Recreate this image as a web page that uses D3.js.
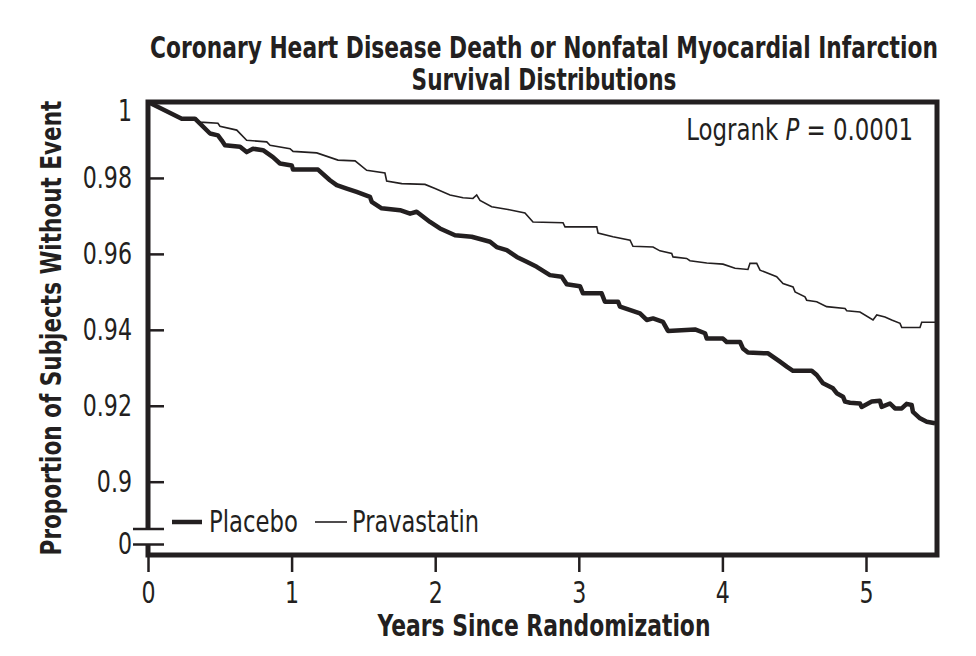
<!DOCTYPE html>
<html>
<head>
<meta charset="utf-8">
<script src="https://d3js.org/d3.v7.min.js"></script>
<style>
  body { margin: 0; background: #fff; }
  svg text { font-family: "Liberation Sans Narrow", "DejaVu Sans Condensed", "Roboto Condensed", sans-serif; fill: #231f20; }
  .bold { font-weight: bold; }
</style>
</head>
<body>
<svg id="chart" width="976" height="656"></svg>
<script>
// years since randomization / proportion without event
var pravaT = [0, 0.235, 0.327, 0.362, 0.487, 0.501, 0.618, 0.687, 0.827, 0.850, 0.989, 1.010, 1.175, 1.323, 1.442,
  1.523, 1.650, 1.662, 1.767, 1.929, 1.999, 2.103, 2.194, 2.263, 2.289, 2.312, 2.393, 2.507, 2.625, 2.681, 2.890,
  2.904, 3.125, 3.134, 3.238, 3.357, 3.377, 3.517, 3.565, 3.647, 3.656, 3.751, 3.774, 3.891, 4.004, 4.088, 4.178,
  4.192, 4.239, 4.262, 4.378, 4.422, 4.492, 4.506, 4.575, 4.587, 4.657, 4.726, 4.854, 4.866, 4.958, 5.049, 5.075,
  5.132, 5.179, 5.237, 5.249, 5.376, 5.388, 5.481];
var pravaS = [1, 0.9956, 0.9956, 0.9947, 0.9944, 0.9936, 0.9926, 0.9899, 0.9895, 0.9886, 0.9877, 0.9870, 0.9866, 0.9847, 0.9845,
  0.9820, 0.9813, 0.9792, 0.9785, 0.9783, 0.9772, 0.9755, 0.9748, 0.9746, 0.9755, 0.9741, 0.9724, 0.9717, 0.9708, 0.9684, 0.9682,
  0.9671, 0.9671, 0.9655, 0.9645, 0.9636, 0.9620, 0.9618, 0.9608, 0.9601, 0.9592, 0.9588, 0.9582, 0.9576, 0.9573, 0.9562, 0.9559,
  0.9575, 0.9575, 0.9557, 0.9540, 0.9522, 0.9513, 0.9500, 0.9487, 0.9478, 0.9474, 0.9461, 0.9456, 0.9450, 0.9447, 0.9426, 0.9439,
  0.9434, 0.9426, 0.9417, 0.9406, 0.9406, 0.9420, 0.9420];

var placT = [0, 0.235, 0.327, 0.432, 0.487, 0.513, 0.536, 0.641, 0.687, 0.731, 0.801, 0.870, 0.919, 1.001, 1.010,
  1.184, 1.267, 1.314, 1.384, 1.453, 1.546, 1.558, 1.627, 1.755, 1.825, 1.871, 1.964, 2.033, 2.138, 2.254, 2.382,
  2.428, 2.498, 2.568, 2.637, 2.707, 2.799, 2.881, 2.916, 3.008, 3.029, 3.159, 3.182, 3.273, 3.287, 3.426, 3.473,
  3.517, 3.586, 3.621, 3.809, 3.879, 3.891, 4.004, 4.030, 4.123, 4.143, 4.178, 4.318, 4.401, 4.448, 4.492, 4.622,
  4.657, 4.701, 4.770, 4.796, 4.840, 4.854, 4.889, 4.958, 4.970, 5.040, 5.097, 5.109, 5.167, 5.202, 5.249, 5.283,
  5.318, 5.327, 5.376, 5.423, 5.481];
var placS = [1, 0.9956, 0.9956, 0.9917, 0.9912, 0.9899, 0.9886, 0.9882, 0.9868, 0.9877, 0.9873, 0.9855, 0.9838, 0.9833, 0.9822,
  0.9822, 0.9794, 0.9781, 0.9772, 0.9763, 0.9750, 0.9737, 0.9720, 0.9715, 0.9706, 0.9711, 0.9684, 0.9667, 0.9649, 0.9645, 0.9632,
  0.9618, 0.9610, 0.9592, 0.9579, 0.9566, 0.9544, 0.9540, 0.9520, 0.9515, 0.9496, 0.9496, 0.9474, 0.9474, 0.9461, 0.9443, 0.9426,
  0.9430, 0.9421, 0.9397, 0.9401, 0.9391, 0.9377, 0.9377, 0.9368, 0.9368, 0.9351, 0.9340, 0.9338, 0.9316, 0.9303, 0.9292, 0.9292,
  0.9281, 0.9259, 0.9246, 0.9233, 0.9224, 0.9211, 0.9208, 0.9206, 0.9197, 0.9211, 0.9213, 0.9197, 0.9206, 0.9193, 0.9193, 0.9205,
  0.9202, 0.9184, 0.9167, 0.9158, 0.9154];

var xTicks = [0, 1, 2, 3, 4, 5];
var yTicks = [0, 0.9, 0.92, 0.94, 0.96, 0.98, 1];
var yLabels = ['0', '0.9', '0.92', '0.94', '0.96', '0.98', '1'];
var seriesNames = ['Placebo', 'Pravastatin'];

(function() {
  'use strict';
  var svg = d3.select('#chart');
  var ink = '#231f20';
  var left = 148, right = 937, top = 102, bottom = 555;
  var breakY = 529;

  // no narrow font offline, so squeeze text horizontally with a transform.
  // k: fixed factor, or pass a target width w instead
  var squeeze = function(sel, k, w) {
    sel.each(function() {
      var t = d3.select(this);
      var f = w ? w / this.getComputedTextLength() : k;
      var x0 = +t.attr('x') || 0;
      t.attr('x', x0 / f).attr('transform', 'scale(' + f + ',1)');
    });
  };
  // free text label at (x, y), squeezed to width w, optional rotation
  var label = function(x, y, str, size, w, cls, rot) {
    var g = svg.append('g').attr('transform', 'translate(' + x + ',' + y + ')' + (rot ? ' rotate(' + rot + ')' : ''));
    var t = g.append('text').attr('class', cls || null).attr('text-anchor', 'middle')
      .style('font-size', size + 'px').text(str);
    t.call(squeeze, 1, w);
    return t;
  };

  var x = d3.scaleLinear().domain([0, 5.5]).range([left, left + 5.5 * 143.6]);
  // broken axis: 0 sits just below the break, 0.9..1 is the real range
  var y = d3.scaleLinear().domain([0, 0.9, 1]).range([544, 481.7, top]);

  // x axis ticks (outside)
  var xAxis = svg.append('g')
    .attr('transform', 'translate(0,' + bottom + ')')
    .call(d3.axisBottom(x).tickValues(xTicks).tickSize(17).tickPadding(10).tickFormat(d3.format('d')));
  xAxis.select('.domain').remove();
  xAxis.selectAll('line').attr('stroke', ink).attr('stroke-width', 2.5);
  xAxis.selectAll('text').style('font-size', '30px').attr('fill', ink).call(squeeze, 0.82);

  // y axis ticks (inside)
  var yAxis = svg.append('g')
    .attr('transform', 'translate(' + left + ',0)')
    .call(d3.axisLeft(y).tickValues(yTicks).tickSize(-16).tickPadding(16)
      .tickFormat(function(d, i) { return yLabels[i]; }));
  yAxis.select('.domain').remove();
  yAxis.selectAll('line').attr('stroke', ink).attr('stroke-width', 2.5);
  yAxis.selectAll('text').style('font-size', '30px').attr('fill', ink).call(squeeze, 0.82);
  yAxis.selectAll('.tick').filter(function(d) { return d === 1; }).select('text').attr('dy', '0.6em');
  // the 0 tick doubles as the lower break mark
  yAxis.selectAll('.tick').filter(function(d) { return d === 0; }).select('line')
    .attr('x1', -15).attr('x2', 16);

  // frame with a break in the left side
  svg.append('path')
    .attr('d', 'M' + left + ',' + breakY + 'V' + top + 'H' + right + 'V' + bottom + 'H' + left + 'V' + y(0))
    .attr('fill', 'none')
    .attr('stroke', ink)
    .attr('stroke-width', 5)
    .attr('stroke-linejoin', 'miter');
  svg.append('line')
    .attr('x1', left - 15).attr('x2', left + 16)
    .attr('y1', breakY).attr('y2', breakY)
    .attr('stroke', ink).attr('stroke-width', 2.5);

  // survival curves
  var line = d3.line()
    .x(function(d) { return x(d[0]); })
    .y(function(d) { return y(d[1]); });

  svg.append('path')
    .datum(d3.zip(pravaT, pravaS))
    .attr('d', line)
    .attr('fill', 'none')
    .attr('stroke', ink)
    .attr('stroke-width', 1.6);

  svg.append('path')
    .datum(d3.zip(placT, placS))
    .attr('d', line)
    .attr('fill', 'none')
    .attr('stroke', ink)
    .attr('stroke-width', 4.5)
    .attr('stroke-linejoin', 'round');

  // legend
  svg.append('line').attr('x1', 172).attr('x2', 202).attr('y1', 522).attr('y2', 522)
    .attr('stroke', ink).attr('stroke-width', 4.5);
  label(209 + 89 / 2, 532, seriesNames[0], 30, 89);
  svg.append('line').attr('x1', 315).attr('x2', 347).attr('y1', 522).attr('y2', 522)
    .attr('stroke', ink).attr('stroke-width', 1.6);
  label(352 + 127 / 2, 532, seriesNames[1], 30, 127);

  // logrank note
  var ng = svg.append('g').attr('transform', 'translate(913,140)');
  var note = ng.append('text').attr('text-anchor', 'end').style('font-size', '30px');
  note.append('tspan').text('Logrank ');
  note.append('tspan').style('font-style', 'italic').text('P');
  note.append('tspan').text(' = 0.0001');
  note.call(squeeze, 1, 227);

  // titles
  label(544, 58, 'Coronary Heart Disease Death or Nonfatal Myocardial Infarction', 30, 788, 'bold');
  label(544, 90, 'Survival Distributions', 30, 265, 'bold');
  label(544, 636, 'Years Since Randomization', 30, 333, 'bold');
  label(61, 328, 'Proportion of Subjects Without Event', 29, 455, 'bold', -90);
})();
</script>
</body>
</html>
